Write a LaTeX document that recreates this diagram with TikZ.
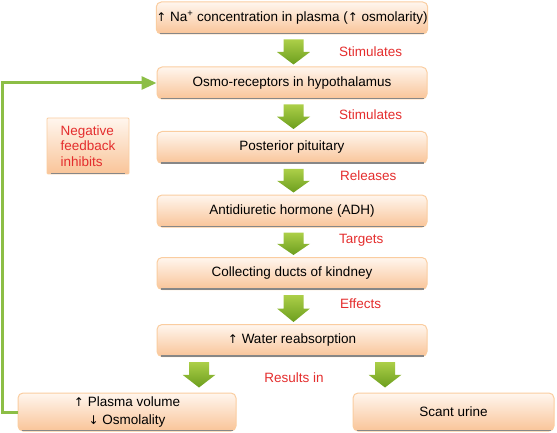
\documentclass[tikz,border=0pt]{standalone}
\usepackage{fontspec}
\setmainfont{Liberation Sans}
\newfontfamily\arrowfont{DejaVu Sans}
\newcommand\upar{{\arrowfont\fontsize{12}{12}\selectfont ↑}}
\newcommand\downar{{\arrowfont\fontsize{12}{12}\selectfont ↓}}
\usetikzlibrary{calc,arrows.meta}
\definecolor{boxtop}{RGB}{255,246,238}
\definecolor{boxbot}{RGB}{249,196,152}
\definecolor{boxedge}{RGB}{250,205,160}
\definecolor{shadowgrey}{RGB}{135,135,135}
\definecolor{gtop}{RGB}{172,207,72}
\definecolor{gbot}{RGB}{108,158,30}
\definecolor{fbgreen}{RGB}{140,190,70}
\definecolor{lblred}{RGB}{228,45,45}
\tikzset{
  flowbox/.style={draw=boxedge, line width=1pt, rounded corners=5pt,
    top color=boxtop, bottom color=boxbot, inner sep=0pt,
    font=\fontsize{13.5}{17.5}\selectfont, align=center},
  notebox/.style={draw=boxedge, line width=0.8pt, rounded corners=1pt,
    top color=boxtop, bottom color=boxbot, inner sep=0pt,
    text=lblred, font=\fontsize{13.5}{15.5}\selectfont, align=left,
    minimum width=82pt, minimum height=56pt},
  lbl/.style={text=lblred, font=\fontsize{13.5}{15}\selectfont, anchor=west, inner sep=0pt},
  shadowline/.style={draw=shadowgrey, line width=1.3pt},
  garrowstyle/.style={top color=gtop, bottom color=gbot, draw=none},
  fb/.style={draw=fbgreen, line width=3pt, -{Triangle[length=15pt,width=13pt]}}
}
\newcommand\garrow[2]{%
  \shade[garrowstyle] let \p1=(#1), \p2=(#2) in
   ({\x1-10pt},\y1) -- ({\x1+10pt},\y1) -- ({\x1+10pt},{0.5*\y1+0.5*\y2})
   -- ({\x1+16.5pt},{0.5*\y1+0.5*\y2}) -- (\x1,\y2)
   -- ({\x1-16.5pt},{0.5*\y1+0.5*\y2}) -- ({\x1-10pt},{0.5*\y1+0.5*\y2}) -- cycle;}
\begin{document}
\begin{tikzpicture}[x=1pt,y=-1pt]
\useasboundingbox (0,0) rectangle (557,433);
\tikzset{mainbox/.style={flowbox, minimum width=270pt, minimum height=32pt}}
\node[mainbox] (b1) at (292,18) {\upar{} Na\textsuperscript{+} concentration in plasma (\upar{} osmolarity)};
\node[mainbox] (b2) at (292,83) {Osmo-receptors in hypothalamus};
\node[mainbox] (b3) at (292,147.5) {Posterior pituitary};
\node[mainbox] (b4) at (292,211) {Antidiuretic hormone (ADH)};
\node[mainbox] (b5) at (292,273.5) {Collecting ducts of kindney};
\node[mainbox] (b6) at (292,340.5) {\upar{} Water reabsorption};
\node[flowbox, minimum width=218pt, minimum height=38pt] (b7) at (127,412) {\upar{} Plasma volume\\\downar{} Osmolality};
\node[flowbox, minimum width=201pt, minimum height=38pt] (b8) at (453.5,412) {Scant urine};
\node[notebox] (nb) at (88,146) {Negative\\feedback\\inhibits};
\foreach \b in {b1,b2,b3,b4,b5,b6,b7,b8,nb}{
  \draw[shadowline] ($(\b.south west)+(4,-1)$) -- ($(\b.south east)+(-4,-1)$);
}
\garrow{$(b1.south)+(1.5,5)$}{$(b2.north)+(1.5,-2)$}
\garrow{$(b2.south)+(1.5,5)$}{$(b3.north)+(1.5,-2)$}
\garrow{$(b3.south)+(1.5,5)$}{$(b4.north)+(1.5,-2)$}
\garrow{$(b4.south)+(1.5,5)$}{$(b5.north)+(1.5,-2)$}
\garrow{$(b5.south)+(1.5,5)$}{$(b6.north)+(1.5,-2)$}
\coordinate (la) at ($(b6.south)+(-93,5)$);
\coordinate (ra) at ($(b6.south)+(93,5)$);
\garrow{la}{$(la|-b7.north)+(0,-5)$}
\garrow{ra}{$(ra|-b8.north)+(0,-5)$}
\node[lbl] (l1) at (339,52) {Stimulates};
\node[lbl] (l2) at (339,115) {Stimulates};
\node[lbl] (l3) at (340,176) {Releases};
\node[lbl] (l4) at (339,240) {Targets};
\node[lbl] (l5) at (340,304) {Effects};
\node[lbl, anchor=center] (l6) at (294,378) {Results in};
\draw[fb] (b7.west) -- ++(-15,0) |- (b2.west);
\end{tikzpicture}
\end{document}
